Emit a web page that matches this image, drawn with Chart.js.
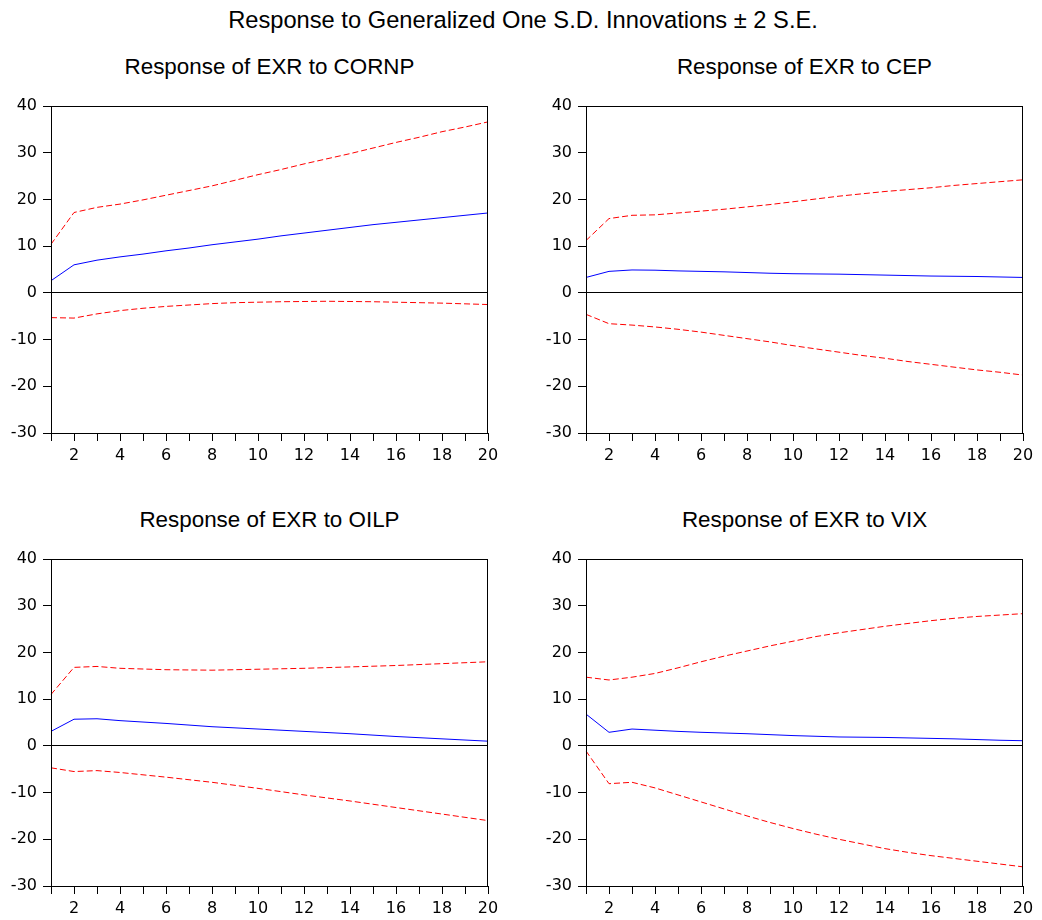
<!DOCTYPE html>
<html>
<head>
<meta charset="utf-8">
<script src="https://cdn.jsdelivr.net/npm/chart.js@4.4.1/dist/chart.umd.min.js"></script>
<style>
  html, body { margin: 0; padding: 0; background: #fff; overflow: hidden; width: 1042px; height: 920px; }
  .t { position: absolute; font-family: "Liberation Sans", Arial, sans-serif; color: #000; text-align: center; white-space: nowrap; }
  .main { left: 2px; width: 1042px; top: 8.5px; font-size: 23.7px; line-height: 23.7px; }
  .sub { width: 440px; font-size: 22.4px; line-height: 22.4px; }
  .box { position: absolute; width: 500px; height: 375px; }
</style>
</head>
<body>
<script>
// ---------- DATA ----------
const periods = [1,2,3,4,5,6,7,8,9,10,11,12,13,14,15,16,17,18,19,20];
const yTickValues = [-30,-20,-10,0,10,20,30,40];

const cornpResp  = [2.6,6.0,7.0,7.7,8.3,9.0,9.6,10.3,10.9,11.5,12.2,12.8,13.4,14.0,14.6,15.1,15.6,16.1,16.6,17.1];
const cornpUpper = [10.4,17.2,18.3,19.0,19.9,20.9,21.9,22.9,24.1,25.3,26.4,27.6,28.7,29.8,31.0,32.2,33.3,34.5,35.5,36.6];
const cornpLower = [-5.3,-5.4,-4.5,-3.8,-3.3,-2.9,-2.6,-2.3,-2.1,-2.0,-1.9,-1.85,-1.8,-1.85,-1.9,-2.0,-2.1,-2.2,-2.35,-2.5];

const cepResp  = [3.3,4.6,4.9,4.85,4.7,4.6,4.5,4.35,4.2,4.1,4.05,4.0,3.9,3.8,3.7,3.6,3.55,3.5,3.4,3.3];
const cepUpper = [11.2,15.9,16.6,16.7,17.1,17.5,17.9,18.4,18.9,19.5,20.1,20.7,21.2,21.7,22.1,22.5,23.0,23.4,23.8,24.2];
const cepLower = [-4.6,-6.6,-6.9,-7.3,-7.8,-8.4,-9.1,-9.8,-10.5,-11.3,-12.0,-12.7,-13.4,-14.0,-14.7,-15.3,-15.9,-16.5,-17.0,-17.6];

const oilpResp  = [3.1,5.7,5.8,5.4,5.1,4.8,4.45,4.1,3.85,3.6,3.35,3.1,2.85,2.6,2.3,2.0,1.75,1.5,1.25,1.0];
const oilpUpper = [11.0,16.8,17.0,16.6,16.45,16.3,16.25,16.2,16.3,16.4,16.5,16.6,16.75,16.9,17.05,17.2,17.4,17.6,17.8,18.0];
const oilpLower = [-4.7,-5.5,-5.3,-5.7,-6.2,-6.7,-7.25,-7.8,-8.45,-9.1,-9.8,-10.5,-11.15,-11.8,-12.5,-13.2,-13.9,-14.6,-15.3,-16.0];

const vixResp  = [6.8,2.9,3.6,3.35,3.1,2.9,2.75,2.6,2.4,2.2,2.05,1.9,1.85,1.8,1.7,1.6,1.5,1.35,1.2,1.1];
const vixUpper = [14.7,14.1,14.7,15.5,16.7,18.0,19.2,20.3,21.4,22.4,23.4,24.2,24.9,25.6,26.2,26.8,27.3,27.7,28.0,28.3];
const vixLower = [-1.1,-8.1,-7.8,-9.0,-10.5,-12.0,-13.5,-15.0,-16.4,-17.7,-18.9,-20.0,-21.0,-22.0,-22.8,-23.5,-24.1,-24.7,-25.3,-25.9];

const mainTitle = "Response to Generalized One S.D. Innovations \u00B1 2 S.E.";
const panelTitles = ["Response of EXR to CORNP","Response of EXR to CEP","Response of EXR to OILP","Response of EXR to VIX"];

// ---------- LAYOUT ----------
const panels = [
  { title: panelTitles[0], resp: cornpResp, upper: cornpUpper, lower: cornpLower, left: 0,   top: 95 },
  { title: panelTitles[1], resp: cepResp,   upper: cepUpper,   lower: cepLower,   left: 535, top: 95 },
  { title: panelTitles[2], resp: oilpResp,  upper: oilpUpper,  lower: oilpLower,  left: 0,   top: 548 },
  { title: panelTitles[3], resp: vixResp,   upper: vixUpper,   lower: vixLower,   left: 535, top: 548 }
];

const mt = document.createElement('div');
mt.className = 't main';
mt.textContent = mainTitle;
document.body.appendChild(mt);

const framePlugin = {
  id: 'frame',
  afterDraw(chart) {
    const a = chart.chartArea, c = chart.ctx;
    c.save();
    c.strokeStyle = '#000';
    c.lineWidth = 1;
    c.strokeRect(Math.round(a.left) + 0.5, Math.round(a.top) + 0.5, Math.round(a.right - a.left) - 1, Math.round(a.bottom - a.top));
    c.restore();
  }
};

const tickFont = { family: '"DejaVu Sans", sans-serif', size: 16 };

panels.forEach((p) => {
  const st = document.createElement('div');
  st.className = 't sub';
  st.style.left = (p.left + 51 + 218.5 - 220) + 'px';
  st.style.top = (p.top - 39.5) + 'px';
  st.textContent = p.title;
  document.body.appendChild(st);

  const box = document.createElement('div');
  box.className = 'box';
  box.style.left = p.left + 'px';
  box.style.top = p.top + 'px';
  const cv = document.createElement('canvas');
  cv.width = 500; cv.height = 375;
  cv.style.width = '500px'; cv.style.height = '375px';
  box.appendChild(cv);
  document.body.appendChild(box);

  new Chart(cv.getContext('2d'), {
    type: 'line',
    data: {
      labels: periods.map(String),
      datasets: [
        { data: p.upper, borderColor: '#ff0000', borderWidth: 1, borderDash: [6, 3], pointRadius: 0, tension: 0, fill: false },
        { data: p.lower, borderColor: '#ff0000', borderWidth: 1, borderDash: [6, 3], pointRadius: 0, tension: 0, fill: false },
        { data: p.resp,  borderColor: '#0000ff', borderWidth: 1, pointRadius: 0, tension: 0, fill: false }
      ]
    },
    options: {
      responsive: false,
      animation: false,
      devicePixelRatio: 1,
      layout: { padding: { top: 11, right: 12, left: 0, bottom: 0 } },
      plugins: { legend: { display: false }, tooltip: { enabled: false }, title: { display: false } },
      scales: {
        x: {
          type: 'category',
          offset: false,
          afterFit(s) { s.height = 37; s.paddingLeft = 0; s.paddingRight = 0; },
          grid: { drawOnChartArea: false, drawTicks: true, tickLength: 8, tickColor: '#000' },
          border: { display: true, color: '#000', width: 1 },
          ticks: {
            autoSkip: false, maxRotation: 0, minRotation: 0, padding: 5.5,
            color: '#000', font: tickFont,
            callback: (v, i) => (periods[i] % 2 === 0 ? String(periods[i]) : '')
          }
        },
        y: {
          min: yTickValues[0], max: yTickValues[yTickValues.length - 1],
          afterFit(s) { s.width = 51; s.paddingTop = 0; s.paddingBottom = 0; },
          afterBuildTicks(s) { s.ticks = yTickValues.map(v => ({ value: v })); },
          grid: {
            drawOnChartArea: true, drawTicks: true, tickLength: 8, tickColor: '#000',
            color: (ctx) => (ctx.tick && ctx.tick.value === 0 ? '#000' : 'rgba(0,0,0,0)')
          },
          border: { display: true, color: '#000', width: 1 },
          ticks: { padding: 6, color: '#000', font: tickFont }
        }
      }
    },
    plugins: [framePlugin]
  });
});
</script>
</body>
</html>
